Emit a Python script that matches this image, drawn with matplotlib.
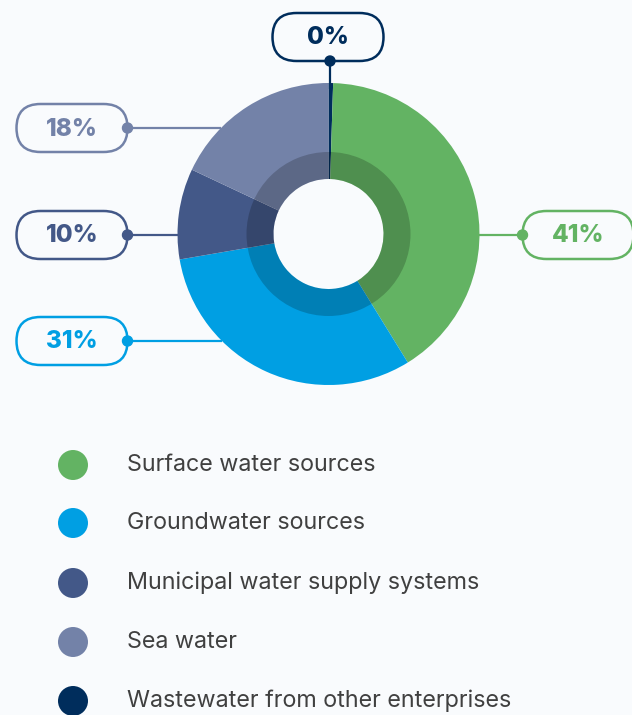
import matplotlib
matplotlib.use('Agg')
import matplotlib.pyplot as plt
from matplotlib.patches import Wedge, FancyBboxPatch, Circle
import numpy as np

# water intake by source, % of total
sources = ['Surface water sources', 'Groundwater sources', 'Municipal water supply systems',
           'Sea water', 'Wastewater from other enterprises']
shares = [40.71, 31.1, 9.7, 18.0, 0.49]
colors = ['#63b363', '#009fe3', '#435888', '#7382a8', '#002d5c']
# clockwise from 12 o'clock
ring_order = [4, 0, 1, 2, 3]

BG = '#f9fbfd'
W, H = 632, 715

fig = plt.figure(figsize=(W / 100, H / 100), dpi=100, facecolor=BG)
ax = fig.add_axes([0, 0, 1, 1])
ax.set_facecolor(BG)

cx, cy = 328.5, H - 234
R, r_hole, r_ring = 151, 55, 82

ax.pie([shares[i] for i in ring_order], colors=[colors[i] for i in ring_order],
       startangle=90, counterclock=False, radius=R, center=(cx, cy),
       wedgeprops=dict(width=R - r_hole, linewidth=0))
# darker inner band
ax.add_patch(Wedge((cx, cy), r_ring, 0, 360, width=r_ring - r_hole,
                   facecolor='black', alpha=0.2, linewidth=0))

# label pills: (index, box centre x, box centre y in px from top, side)
pills = [
    (0, 578, 235, 'right'),
    (1, 72, 341, 'left'),
    (2, 72, 235, 'left'),
    (3, 72, 128, 'left'),
    (4, 328, 37, 'top'),
]
bw, bh = 111, 48
font = ['Inter', 'DejaVu Sans']
for i, bx, by, side in pills:
    c = colors[i]
    y = H - by
    if side == 'top':
        dot = (330, y - bh / 2)
        end = (330, cy + R - 6)
    else:
        edge = np.sqrt(R ** 2 - (y - cy) ** 2)
        if side == 'left':
            dot = (bx + bw / 2, y)
            end = (cx - edge, y)
        else:
            dot = (bx - bw / 2, y)
            end = (cx + edge, y)
    ax.plot([dot[0], end[0]], [dot[1], end[1]], color=c, lw=1.6, zorder=4,
            solid_capstyle='butt')
    box = FancyBboxPatch((bx - bw / 2, y - bh / 2), bw, bh,
                         boxstyle=f'round,pad=0,rounding_size={bh / 2}',
                         facecolor=BG, edgecolor=c, lw=1.8, zorder=3)
    ax.add_patch(box)
    ax.add_patch(Circle(dot, 5, color=c, zorder=5))
    ax.text(bx, y - 1, f'{round(shares[i])}%', ha='center', va='center',
            fontsize=17.5, fontweight=800, color=c, family=font, zorder=6)

# legend
leg_y = [465, 523, 583, 642, 701]
for name, c, ly in zip(sources, colors, leg_y):
    ax.add_patch(Circle((73, H - ly), 15, color=c, linewidth=0))
    ax.text(127, H - ly, name, ha='left', va='center', fontsize=16.8,
            color='#404040', family=font)

ax.set_xlim(0, W)
ax.set_ylim(0, H)
ax.set_aspect('equal')
ax.axis('off')

fig.savefig('out.png', dpi=100, facecolor=BG)
